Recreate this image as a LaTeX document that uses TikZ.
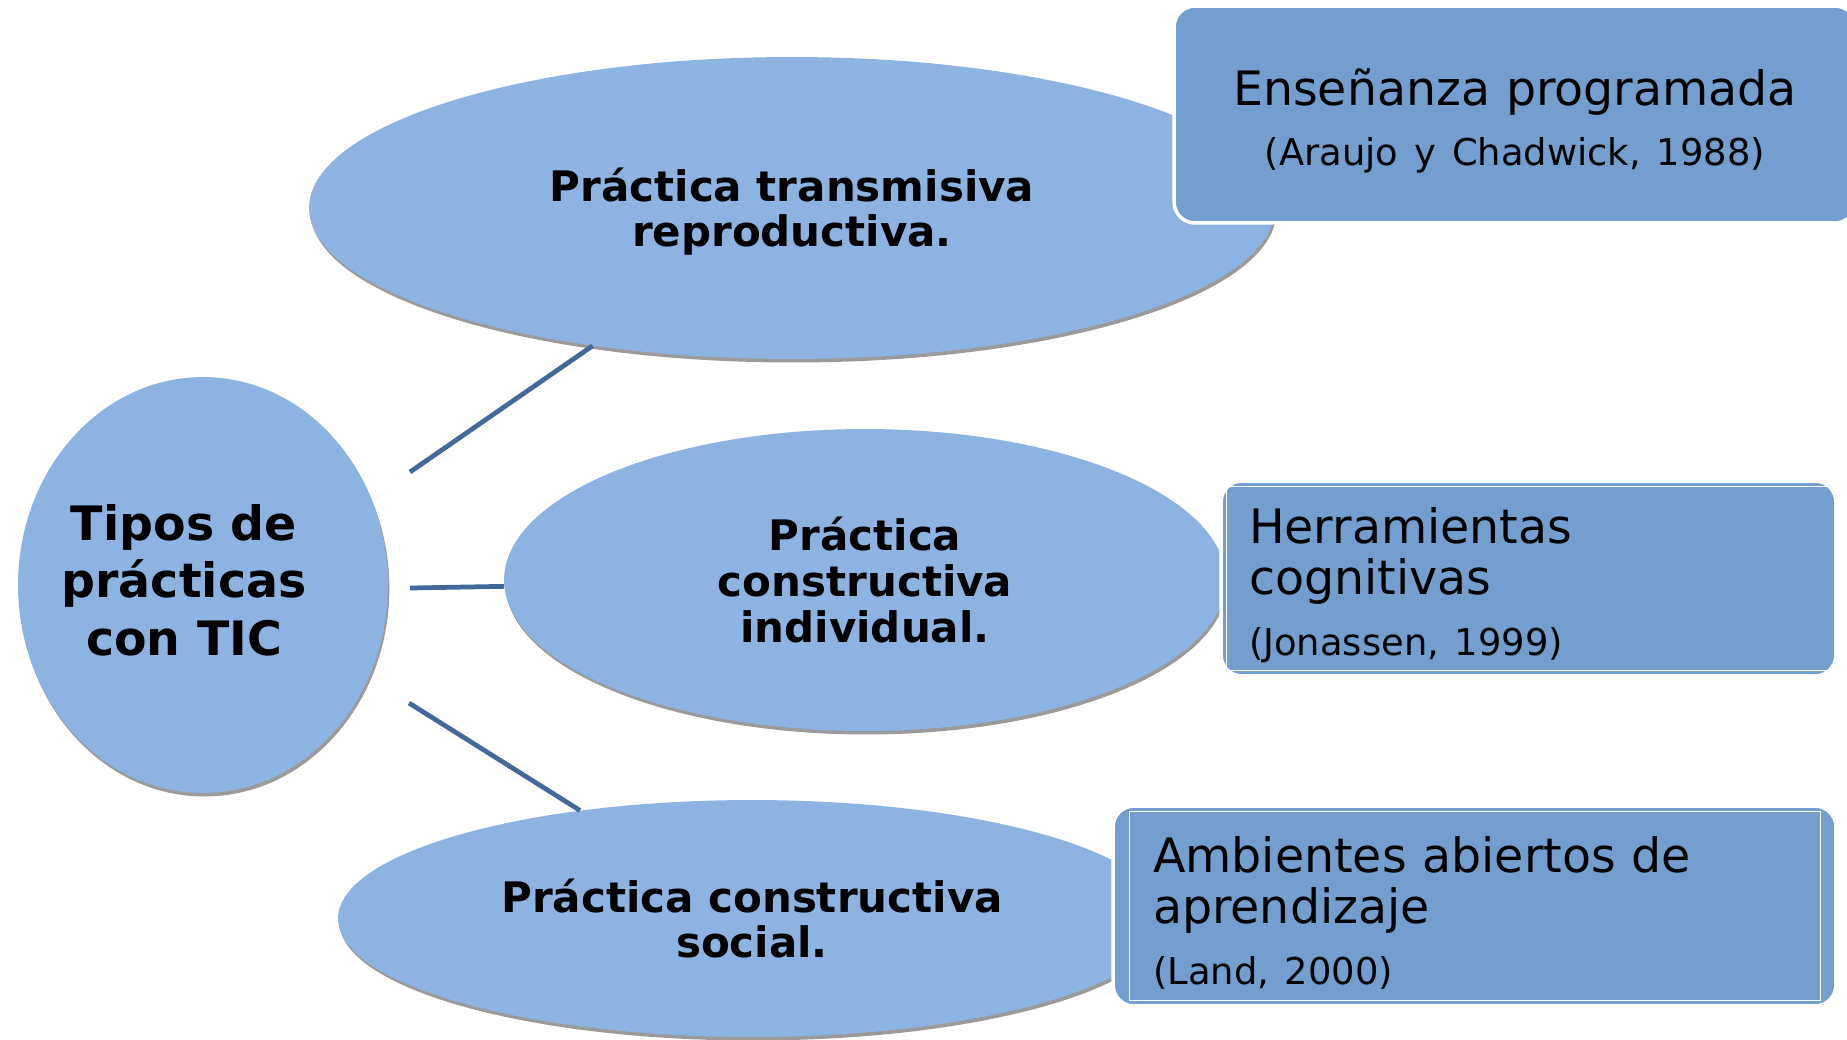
\documentclass[tikz,border=0pt]{standalone}
\usepackage{fontspec}
\setmainfont{DejaVu Sans}
\usetikzlibrary{shapes.geometric,shadows}

\definecolor{ovalblue}{HTML}{8DB3E2}
\definecolor{cardblue}{HTML}{729FCF}
\definecolor{linkblue}{HTML}{41699B}
\definecolor{shadowgray}{HTML}{9A9A9A}

\tikzset{
  oval/.style={ellipse, fill=ovalblue, inner sep=0pt, align=center,
    font=\bfseries\fontsize{23.9}{26}\selectfont,
    drop shadow={shadow xshift=0.8pt, shadow yshift=-2pt, fill=shadowgray, opacity=1}},
  card/.style={rectangle, rounded corners=0.42cm, fill=cardblue, draw=white,
    line width=2pt, inner sep=0pt, align=left, font=\fontsize{27}{29}\selectfont},
  cardline/.style={draw=white, line width=0.6pt},
  link/.style={draw=linkblue, line width=2.7pt}
}
\newcommand{\cardstrut}{\rule{0pt}{28pt}}
\newcommand{\reffont}{\fontsize{21}{24}\selectfont}

\begin{document}
\begin{tikzpicture}[x=0.02cm, y=-0.02cm]
  \path[use as bounding box, clip] (0,0) rectangle (1847,1039);

  % ovals
  \node[oval, minimum width=7.4cm, minimum height=8.32cm] (tipos) at (203,585) {};
  \node[font=\bfseries\fontsize{27}{32.7}\selectfont, align=center] (tiposText) at (184,580) {Tipos de\\prácticas\\con TIC};
  \node[oval, minimum width=19.32cm, minimum height=6.04cm] (transm) at (792,208) {\rule{0pt}{23pt}Práctica transmisiva\\reproductiva.};
  \node[oval, minimum width=14.44cm, minimum height=6.04cm] (indiv) at (865,580) {Práctica\\constructiva\\individual.};
  \node[oval, minimum width=16.56cm, minimum height=4.74cm] (social) at (752,918.5) {Práctica constructiva\\social.};

  % links
  \coordinate (s1) at (410,472);
  \coordinate (s2) at (410,588);
  \coordinate (s3) at (409,703);
  \draw[link] (s1) -- (transm);
  \draw[link] (s2) -- (indiv);
  \draw[link] (s3) -- (social);

  % cards
  \node[card, align=center, minimum width=13.64cm, minimum height=4.34cm, text width=13.64cm] (ensen) at (1515,114.5)
    {\cardstrut Enseñanza programada\\[5pt]{\reffont (Araujo y Chadwick, 1988)}};
  \node[card, minimum width=12.3cm, minimum height=3.9cm, text width=11.18cm] (herram) at (1528.5,578.5)
    {\cardstrut Herramientas\\cognitivas\\[5.6pt]{\reffont (Jonassen, 1999)}};
  \node[card, minimum width=14.46cm, minimum height=4cm, text width=12.86cm] (ambien) at (1474.5,906)
    {\cardstrut Ambientes abiertos de\\aprendizaje\\[5.6pt]{\reffont (Land, 2000)}};
  \draw[cardline] ([shift={(7,7)}]herram.north west) rectangle ([shift={(-3,-7)}]herram.south east);
  \draw[cardline] ([shift={(18,7)}]ambien.north west) rectangle ([shift={(-17,-7)}]ambien.south east);
\end{tikzpicture}
\end{document}
